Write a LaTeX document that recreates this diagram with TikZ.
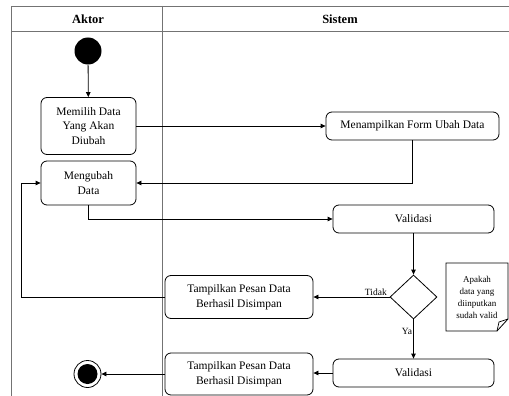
\documentclass[tikz,border=0pt]{standalone}
\usepackage{fontspec}
\setmainfont{Liberation Serif}
\usetikzlibrary{shapes.geometric,arrows.meta}
\begin{document}
\begin{tikzpicture}[x=1pt,y=-1pt,
  lane/.style={draw=black!55,line width=0.6pt},
  act/.style={draw=black,line width=0.8pt,rounded corners=6pt,align=center,
    inner sep=2pt,font=\fontsize{11.5}{14.5}\selectfont},
  flow/.style={draw=black,line width=0.8pt,-{Triangle[length=5pt,width=4.5pt]}},
  lbl/.style={font=\fontsize{9.5}{11}\selectfont,inner sep=1pt},
  head/.style={font=\fontsize{12.5}{14}\selectfont\bfseries}]
\useasboundingbox (0,0) rectangle (509,396);
\clip (0,0) rectangle (509,396);
\fill[white] (0,0) rectangle (509,396);

% swimlanes
\draw[lane] (11,400) -- (11,6) -- (515,6);
\draw[lane] (11,31) -- (515,31);
\draw[lane] (162,6) -- (162,400);
\node[head] (hA) at (88,19) {Aktor};
\node[head] (hS) at (340,19) {Sistem};

% activities
\node[circle,fill=black,minimum size=27pt,inner sep=0pt] (start) at (88,51) {};
\node[act,minimum width=95pt,minimum height=57pt] (memilih) at (88.5,126) {Memilih Data\\Yang Akan\\Diubah};
\node[act,minimum width=173pt,minimum height=28pt] (form) at (412.5,126) {Menampilkan Form Ubah Data};
\node[act,minimum width=95pt,minimum height=44pt] (ubah) at (88.5,183) {Mengubah\\Data};
\node[act,minimum width=161pt,minimum height=28pt] (val1) at (413.5,219) {Validasi};
\node[diamond,draw=black,line width=0.8pt,inner sep=0pt,minimum width=47pt,minimum height=44pt] (dec) at (413.5,297) {};
\node[act,minimum width=148pt,minimum height=43pt] (tp1) at (239,297) {Tampilkan Pesan Data\\Berhasil Disimpan};
\node[act,minimum width=161pt,minimum height=28pt] (val2) at (413.5,373) {Validasi};
\node[act,minimum width=148pt,minimum height=42pt] (tp2) at (239,374) {Tampilkan Pesan Data\\Berhasil Disimpan};
\node[circle,draw=black,line width=0.8pt,minimum size=27pt,inner sep=0pt] (end) at (87.5,374) {};
\fill[black] (end.center) circle (10pt);

% note with folded corner
\draw[black,line width=0.8pt] (446,263) -- (508,263) -- (508,319) -- (497,331) -- (446,331) -- cycle;
\draw[black,line width=0.7pt] (497,331) -- (499,322) -- (508,319);
\node[align=center,font=\fontsize{9}{12}\selectfont] (note) at (477,297) {Apakah\\data yang\\diinputkan\\sudah valid};

% flow
\coordinate (loopx) at (21,0);
\draw[flow] (start) -- (memilih);
\draw[flow] (memilih.east) -- (form.west);
\draw[flow] (form.south) |- (ubah.east);
\draw[flow] (ubah.south) |- (val1.west);
\draw[flow] (val1.south) -- (dec.north);
\draw[flow] (dec.west) -- node[lbl,pos=0.18,above] {Tidak} (tp1.east);
\draw[flow] (tp1.west) -- (tp1.west -| loopx) |- (ubah.west);
\draw[flow] (dec.south) -- node[lbl,left,pos=0.3] {Ya} (val2.north);
\draw[flow] (val2.west) -- (val2.west -| tp2.east);
\draw[flow] (tp2.west) -- (end.east);
\end{tikzpicture}
\end{document}
